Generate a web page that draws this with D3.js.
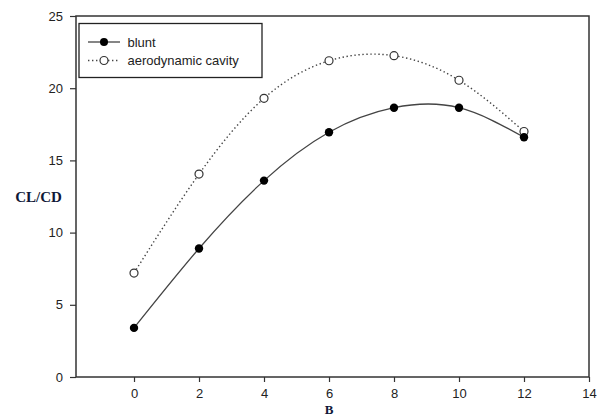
<!DOCTYPE html>
<html><head><meta charset="utf-8">
<script src="https://cdn.jsdelivr.net/npm/d3@7"></script>
<style>body{margin:0;background:#fff}svg{display:block}</style>
</head><body>
<script>
const bValues = [0, 2, 4, 6, 8, 10, 12];
const bluntValues = [3.4, 8.9, 13.6, 16.95, 18.65, 18.65, 16.6];
const cavityValues = [7.2, 14.05, 19.3, 21.9, 22.25, 20.55, 17.0];
const xTicks = [0, 2, 4, 6, 8, 10, 12, 14];
const yTicks = [0, 5, 10, 15, 20, 25];
const seriesNames = ["blunt", "aerodynamic cavity"];

const W = 597, H = 416;
const svg = d3.select("body").append("svg").attr("width", W).attr("height", H);
const x = d3.scaleLinear().domain([-1.785, 14]).range([76, 589]);
const y = d3.scaleLinear().domain([0, 25]).range([377, 16]);

// frame
svg.append("rect").attr("x", 76).attr("y", 16).attr("width", 513).attr("height", 361)
  .attr("fill", "none").attr("stroke", "#333").attr("stroke-width", 1.5);

const yAxis = svg.append("g").attr("transform", "translate(76,0)")
  .call(d3.axisLeft(y).tickValues(yTicks).tickSize(6).tickPadding(7));
const xAxis = svg.append("g").attr("transform", "translate(0,377)")
  .call(d3.axisBottom(x).tickValues(xTicks).tickSize(5).tickPadding(7));
[yAxis, xAxis].forEach(a => {
  a.select(".domain").remove();
  a.selectAll("line").attr("stroke", "#333").attr("stroke-width", 1.2);
  a.selectAll("text").attr("font-family", "Liberation Sans, Arial, sans-serif")
    .attr("font-size", 13).attr("fill", "#222");
});

const line = d3.line().x((d, i) => x(bValues[i])).y(d => y(d)).curve(d3.curveNatural);
svg.append("path").attr("d", line(cavityValues)).attr("fill", "none")
  .attr("stroke", "#444").attr("stroke-width", 1.4).attr("stroke-dasharray", "1.4,2.6");
svg.append("path").attr("d", line(bluntValues)).attr("fill", "none")
  .attr("stroke", "#444").attr("stroke-width", 1.3);

svg.append("g").selectAll("circle").data(cavityValues).join("circle")
  .attr("cx", (d, i) => x(bValues[i])).attr("cy", d => y(d)).attr("r", 4)
  .attr("fill", "#fff").attr("stroke", "#333").attr("stroke-width", 1.2);
svg.append("g").selectAll("circle").data(bluntValues).join("circle")
  .attr("cx", (d, i) => x(bValues[i])).attr("cy", d => y(d)).attr("r", 4.2)
  .attr("fill", "#000");

// legend
const lg = svg.append("g");
lg.append("rect").attr("x", 79).attr("y", 23.5).attr("width", 183).attr("height", 54)
  .attr("fill", "#fff").attr("stroke", "#222").attr("stroke-width", 1.3);
seriesNames.forEach((name, i) => {
  const ly = 42 + i * 18.5;
  lg.append("line").attr("x1", 88).attr("x2", 120).attr("y1", ly).attr("y2", ly)
    .attr("stroke", "#444").attr("stroke-width", 1.3)
    .attr("stroke-dasharray", i === 1 ? "1.4,2.6" : null);
  lg.append("circle").attr("cx", 104).attr("cy", ly).attr("r", 4)
    .attr("fill", i === 0 ? "#000" : "#fff").attr("stroke", i === 0 ? "none" : "#333")
    .attr("stroke-width", 1.2);
  lg.append("text").attr("x", 127.5).attr("y", ly + 4.5).text(name)
    .attr("font-family", "Liberation Sans, Arial, sans-serif").attr("font-size", 13)
    .attr("fill", "#222");
});

// axis titles
svg.append("text").attr("x", 38.5).attr("y", 202).attr("text-anchor", "middle").text("CL/CD")
  .attr("font-family", "Liberation Serif, Times New Roman, serif").attr("font-weight", "bold")
  .attr("font-size", 15).attr("fill", "#101838");
svg.append("text").attr("x", 329).attr("y", 413.5).attr("text-anchor", "middle").text("B")
  .attr("font-family", "Liberation Serif, Times New Roman, serif").attr("font-weight", "bold")
  .attr("font-size", 13).attr("fill", "#101838");
</script>
</body></html>
